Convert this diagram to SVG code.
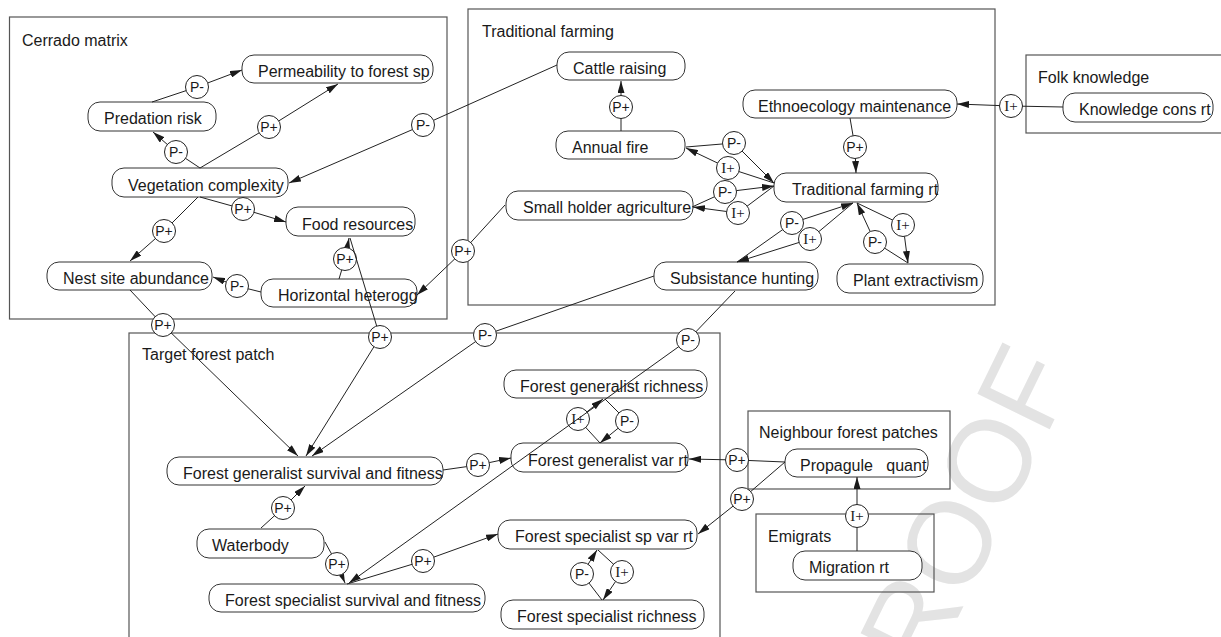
<svg xmlns="http://www.w3.org/2000/svg" width="1221" height="637" viewBox="0 0 1221 637">
<style>
.bg{fill:#ffffff}
.wm{fill:#e3e3e3;font-family:"Liberation Sans",Arial,sans-serif;font-size:117px}
.region{fill:none;stroke:#555;stroke-width:1.2}
.rtitle{font-family:"Liberation Sans",Arial,sans-serif;font-size:16px;fill:#1a1a1a}
.node rect{fill:#fff;stroke:#333;stroke-width:1}
.node text{font-family:"Liberation Sans",Arial,sans-serif;font-size:16px;fill:#1a1a1a;white-space:pre}
.edge path{fill:none;stroke:#222;stroke-width:1}
.edge .arr{marker-end:url(#ah)}
.edge circle{fill:#fff;stroke:#222;stroke-width:1}
.lp{font-family:"Liberation Sans",Arial,sans-serif;font-size:14px;fill:#1a1a1a;text-anchor:middle}
.li{font-family:"Liberation Serif","Times New Roman",serif;font-size:15px;fill:#1a1a1a;text-anchor:middle}
</style>
<defs>
<marker id="ah" markerUnits="userSpaceOnUse" markerWidth="12" markerHeight="7" refX="12" refY="3.5" orient="auto">
<path d="M0,0 L12,3.5 L0,7 z" fill="#1a1a1a"/>
</marker>
</defs>
<rect class="bg" x="0" y="0" width="1221" height="637"/>
<text class="wm" transform="translate(948,542) rotate(-64)" x="0" y="42" text-anchor="middle">PROOF</text>

<g id="regions">
<g id="region-cerrado"><rect class="region" x="9.5" y="17" width="437.5" height="302"/><text class="rtitle" x="22" y="46">Cerrado matrix</text></g>
<g id="region-traditional"><rect class="region" x="468" y="9" width="527" height="296"/><text class="rtitle" x="482" y="37">Traditional farming</text></g>
<g id="region-folk"><rect class="region" x="1026" y="55" width="200" height="78"/><text class="rtitle" x="1038" y="83">Folk knowledge</text></g>
<g id="region-target"><rect class="region" x="129" y="333" width="591" height="312"/><text class="rtitle" x="142" y="360">Target forest patch</text></g>
<g id="region-neighbour"><rect class="region" x="748" y="411" width="202" height="78"/><text class="rtitle" x="759" y="438">Neighbour forest patches</text></g>
<g id="region-emigrats"><rect class="region" x="756" y="514" width="178" height="78"/><text class="rtitle" x="768" y="542">Emigrats</text></g>
</g>

<g id="n-permeability" class="node"><rect x="242" y="55" width="191" height="28" rx="12"/><text x="258" y="77">Permeability to forest sp</text></g>
<g id="n-predation" class="node"><rect x="88" y="102" width="128" height="29" rx="12"/><text x="104" y="124">Predation risk</text></g>
<g id="n-vegetation" class="node"><rect x="112" y="168" width="176" height="29" rx="12"/><text x="128" y="191">Vegetation complexity</text></g>
<g id="n-food" class="node"><rect x="286" y="207" width="129" height="29" rx="12"/><text x="302" y="230">Food resources</text></g>
<g id="n-nest" class="node"><rect x="47" y="262" width="165" height="28" rx="12"/><text x="63" y="284">Nest site abundance</text></g>
<g id="n-horizontal" class="node"><rect x="261" y="279" width="156" height="28" rx="12"/><text x="278" y="301">Horizontal heterogg</text></g>
<g id="n-cattle" class="node"><rect x="557" y="52" width="128" height="28" rx="12"/><text x="573" y="74">Cattle raising</text></g>
<g id="n-fire" class="node"><rect x="556" y="131" width="129" height="28" rx="12"/><text x="572" y="153">Annual fire</text></g>
<g id="n-smallholder" class="node"><rect x="506" y="191" width="187" height="29" rx="12"/><text x="523" y="213">Small holder agriculture</text></g>
<g id="n-ethno" class="node"><rect x="743" y="90" width="214" height="28" rx="12"/><text x="758" y="112">Ethnoecology maintenance</text></g>
<g id="n-tradrt" class="node"><rect x="774" y="173" width="164" height="29" rx="12"/><text x="792" y="195">Traditional farming rt</text></g>
<g id="n-knowledge" class="node"><rect x="1063" y="93" width="150" height="29" rx="12"/><text x="1079" y="115">Knowledge cons rt</text></g>
<g id="n-subsistence" class="node"><rect x="654" y="262" width="164" height="28" rx="12"/><text x="670" y="284">Subsistance hunting</text></g>
<g id="n-plant" class="node"><rect x="837" y="264" width="146" height="29" rx="12"/><text x="853" y="286">Plant extractivism</text></g>
<g id="n-genrich" class="node"><rect x="504" y="370" width="203" height="28" rx="12"/><text x="520" y="392">Forest generalist richness</text></g>
<g id="n-genvar" class="node"><rect x="511" y="443" width="177" height="29" rx="12"/><text x="528" y="466">Forest generalist var rt</text></g>
<g id="n-gensurv" class="node"><rect x="167" y="457" width="276" height="28" rx="12"/><text x="183" y="479">Forest generalist survival and fitness</text></g>
<g id="n-waterbody" class="node"><rect x="197" y="529" width="127" height="29" rx="12"/><text x="212" y="551">Waterbody</text></g>
<g id="n-specsurv" class="node"><rect x="209" y="584" width="276" height="28" rx="12"/><text x="225" y="606">Forest specialist survival and fitness</text></g>
<g id="n-specvar" class="node"><rect x="498" y="520" width="199" height="29" rx="12"/><text x="515" y="542">Forest specialist sp var rt</text></g>
<g id="n-specrich" class="node"><rect x="501" y="600" width="203" height="29" rx="12"/><text x="517" y="622">Forest specialist richness</text></g>
<g id="n-propagule" class="node"><rect x="785" y="449" width="143" height="28" rx="12"/><text x="800" y="471">Propagule   quant</text></g>
<g id="n-migration" class="node"><rect x="793" y="551" width="129" height="29" rx="12"/><text x="809" y="573">Migration rt</text></g>

<g id="connectors" class="edge">
<g><path class="arr" d="M152,102 L197,87 L242,70"/><circle cx="197" cy="87" r="11.5"/><text class="lp" x="197" y="92">P-</text></g>
<g><path class="arr" d="M200,168 L176,152 L153,132"/><circle cx="176" cy="152" r="11.5"/><text class="lp" x="176" y="157">P-</text></g>
<g><path class="arr" d="M200,168 L269,127 L338,84"/><circle cx="269" cy="127" r="11.5"/><text class="lp" x="269" y="132">P+</text></g>
<g><path class="arr" d="M557,65 L423,125 L289,183"/><circle cx="423" cy="125" r="11.5"/><text class="lp" x="423" y="130">P-</text></g>
<g><path class="arr" d="M200,197 L243,209 L286,222"/><circle cx="243" cy="209" r="11.5"/><text class="lp" x="243" y="214">P+</text></g>
<g><path class="arr" d="M198,197 L164,231 L130,261"/><circle cx="164" cy="231" r="11.5"/><text class="lp" x="164" y="236">P+</text></g>
<g><path class="arr" d="M261,292 L237,286 L213,277"/><circle cx="237" cy="286" r="11.5"/><text class="lp" x="237" y="291">P-</text></g>
<g><path class="arr" d="M339,279 L345,259 L349,238"/><circle cx="345" cy="259" r="11.5"/><text class="lp" x="345" y="264">P+</text></g>
<g><path class="arr" d="M505,205 L463,251 L417,295"/><circle cx="463" cy="251" r="11.5"/><text class="lp" x="463" y="256">P+</text></g>
<g><path class="arr" d="M621,131 L621,107 L621,81"/><circle cx="621" cy="107" r="11.5"/><text class="lp" x="621" y="112">P+</text></g>
<g><path class="arr" d="M686,147 L734,143 L774,183"/><circle cx="734" cy="143" r="11.5"/><text class="lp" x="734" y="148">P-</text></g>
<g><path class="arr" d="M774,183 L728,168 L686,148"/><circle cx="728" cy="168" r="11.5"/><text class="li" x="728" y="173">I+</text></g>
<g><path class="arr" d="M692,207 L725,192 L774,186"/><circle cx="725" cy="192" r="11.5"/><text class="lp" x="725" y="197">P-</text></g>
<g><path class="arr" d="M774,186 L738,213 L693,207"/><circle cx="738" cy="213" r="11.5"/><text class="li" x="738" y="218">I+</text></g>
<g><path class="arr" d="M850,118 L855,147 L856,173"/><circle cx="855" cy="147" r="11.5"/><text class="lp" x="855" y="152">P+</text></g>
<g><path class="arr" d="M1063,107 L1011,106 L957,104"/><circle cx="1011" cy="106" r="11.5"/><text class="li" x="1011" y="111">I+</text></g>
<g><path class="arr" d="M737,262 L792,223 L853,203"/><circle cx="792" cy="223" r="11.5"/><text class="lp" x="792" y="228">P-</text></g>
<g><path class="arr" d="M853,203 L810,239 L737,262"/><circle cx="810" cy="239" r="11.5"/><text class="li" x="810" y="244">I+</text></g>
<g><path class="arr" d="M857,203 L903,225 L908,263"/><circle cx="903" cy="225" r="11.5"/><text class="li" x="903" y="230">I+</text></g>
<g><path class="arr" d="M908,263 L875,242 L857,203"/><circle cx="875" cy="242" r="11.5"/><text class="lp" x="875" y="247">P-</text></g>
<g><path class="arr" d="M130,290 L163,325 L298,456"/><circle cx="163" cy="325" r="11.5"/><text class="lp" x="163" y="330">P+</text></g>
<g><path class="arr" d="M350,238 L380,337 L306,456"/><circle cx="380" cy="337" r="11.5"/><text class="lp" x="380" y="342">P+</text></g>
<g><path class="arr" d="M654,276 L485,335 L312,456"/><circle cx="485" cy="335" r="11.5"/><text class="lp" x="485" y="340">P-</text></g>
<g><path class="arr" d="M443,470 L478,465 L511,458"/><circle cx="478" cy="465" r="11.5"/><text class="lp" x="478" y="470">P+</text></g>
<g><path class="arr" d="M261,528 L283,508 L305,486"/><circle cx="283" cy="508" r="11.5"/><text class="lp" x="283" y="513">P+</text></g>
<g><path class="arr" d="M325,542 L337,564 L345,583"/><circle cx="337" cy="564" r="11.5"/><text class="lp" x="337" y="569">P+</text></g>
<g><path class="arr" d="M347,584 L423,561 L498,534"/><circle cx="423" cy="561" r="11.5"/><text class="lp" x="423" y="566">P+</text></g>
<g><path class="arr" d="M600,443 L578,419 L603,399"/><circle cx="578" cy="419" r="11.5"/><text class="li" x="578" y="424">I+</text></g>
<g><path class="arr" d="M735,291 L688,340 L349,583"/><circle cx="688" cy="340" r="11.5"/><text class="lp" x="688" y="345">P-</text></g>
<g><path class="arr" d="M605,399 L627,421 L600,443"/><circle cx="627" cy="421" r="11.5"/><text class="lp" x="627" y="426">P-</text></g>
<g><path class="arr" d="M785,462 L737,460 L689,459"/><circle cx="737" cy="460" r="11.5"/><text class="lp" x="737" y="465">P+</text></g>
<g><path class="arr" d="M785,462 L742,499 L698,534"/><circle cx="742" cy="499" r="11.5"/><text class="lp" x="742" y="504">P+</text></g>
<g><path class="arr" d="M857,551 L857,516 L857,477"/><circle cx="857" cy="516" r="11.5"/><text class="li" x="857" y="521">I+</text></g>
<g><path class="arr" d="M602,600 L582,574 L597,550"/><circle cx="582" cy="574" r="11.5"/><text class="lp" x="582" y="579">P-</text></g>
<g><path class="arr" d="M598,550 L622,572 L603,600"/><circle cx="622" cy="572" r="11.5"/><text class="li" x="622" y="577">I+</text></g>
</g>
</svg>
